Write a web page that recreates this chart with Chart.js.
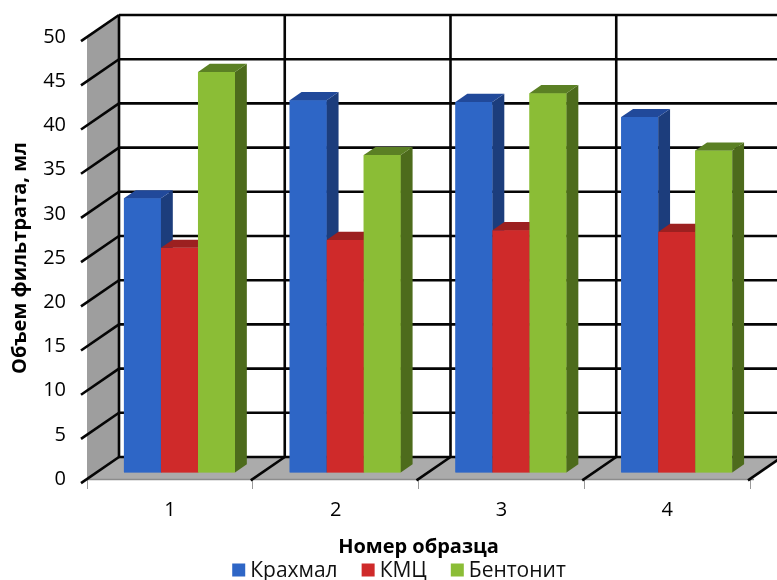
<!DOCTYPE html>
<html>
<head>
<meta charset="utf-8">
<script src="https://cdn.jsdelivr.net/npm/chart.js@4.4.1/dist/chart.umd.min.js"></script>
<style>
  html, body { margin: 0; padding: 0; background: #fff; }
  #wrap { width: 777px; height: 580px; }
</style>
</head>
<body>
<div id="wrap"><canvas id="c" width="777" height="580"></canvas></div>
<script>
// Sample numbers and measured filtrate volumes (ml)
const categories = ['1', '2', '3', '4'];
const seriesNames = ['Крахмал', 'КМЦ', 'Бентонит'];
const starch = [31.0, 42.1, 41.9, 40.2];
const cmc = [25.4, 26.3, 27.4, 27.2];
const bentonite = [45.3, 35.9, 42.9, 36.4];
const yMin = 0, yMax = 50, yStep = 5;
const xTitle = 'Номер образца';
const yTitle = 'Объем фильтрата, мл';

// Face colours: front, side, top
const frontColors = ['#2e66c6', '#cf2a2a', '#8bbd36'];
const sideColors = ['#1c3d7c', '#861b1b', '#4d6b1c'];
const topColors = ['#21499a', '#9c2020', '#5b8024'];

// Oblique depth of the box (back wall offset) and bar slab depth
const DX = 32, DY = 22;
const BAR_Z0 = 0.3, BAR_Z1 = 0.67;

const FONT = '"Open Sans", "Noto Sans", sans-serif';

const box3d = {
  id: 'box3d',
  beforeDatasetsDraw(chart) {
    const ctx = chart.ctx;
    const xs = chart.scales.x, ys = chart.scales.y;
    const L = xs.getPixelForValue(-0.5);
    const R = xs.getPixelForValue(categories.length - 0.5);
    const T = ys.getPixelForValue(yMax);
    const B = ys.getPixelForValue(yMin);
    ctx.save();
    // side wall
    ctx.fillStyle = '#9e9e9e';
    ctx.beginPath();
    ctx.moveTo(L, T); ctx.lineTo(L + DX, T - DY); ctx.lineTo(L + DX, B - DY); ctx.lineTo(L, B);
    ctx.closePath(); ctx.fill();
    // floor
    ctx.fillStyle = '#ababab';
    ctx.beginPath();
    ctx.moveTo(L, B); ctx.lineTo(R, B); ctx.lineTo(R + DX, B - DY); ctx.lineTo(L + DX, B - DY);
    ctx.closePath(); ctx.fill();
    ctx.strokeStyle = '#8c8c8c'; ctx.lineWidth = 1.5;
    ctx.beginPath(); ctx.moveTo(L, B + 0.5); ctx.lineTo(R + 4, B + 0.5); ctx.stroke();

    ctx.strokeStyle = '#050505'; ctx.lineWidth = 2.6; ctx.lineCap = 'butt';
    // back wall horizontal gridlines + side wall diagonals
    for (let v = yMin; v <= yMax; v += yStep) {
      const y = ys.getPixelForValue(v);
      ctx.beginPath(); ctx.moveTo(L + DX, y - DY); ctx.lineTo(R + DX, y - DY); ctx.stroke();
      ctx.beginPath(); ctx.moveTo(L - 6, y + 6 * DY / DX); ctx.lineTo(L + DX, y - DY); ctx.stroke();
    }
    // back wall verticals + floor diagonals at category boundaries
    for (let i = 0; i <= categories.length; i++) {
      const x = xs.getPixelForValue(i - 0.5);
      ctx.beginPath(); ctx.moveTo(x + DX, T - DY); ctx.lineTo(x + DX, B - DY); ctx.stroke();
      if (i > 0) {
        ctx.beginPath(); ctx.moveTo(x - 2, B + 2 * DY / DX); ctx.lineTo(x + DX, B - DY); ctx.stroke();
      }
    }
    ctx.restore();
    // bars sit part-way into the box
    ctx.save();
    ctx.translate(BAR_Z0 * DX, -BAR_Z0 * DY);
  },
  afterDatasetsDraw(chart) {
    const ctx = chart.ctx;
    const ex = (BAR_Z1 - BAR_Z0) * DX, ey = (BAR_Z1 - BAR_Z0) * DY;
    const metas = chart.data.datasets.map((d, k) => chart.getDatasetMeta(k));
    for (let i = 0; i < categories.length; i++) {
      metas.forEach((meta, k) => {
        const el = meta.data[i];
        if (!el) return;
        el.draw(ctx);
        const { x, y, base, width } = el.getProps(['x', 'y', 'base', 'width'], true);
        const l = x - width / 2, r = x + width / 2;
        // right side face
        ctx.fillStyle = sideColors[k];
        ctx.beginPath();
        ctx.moveTo(r, y); ctx.lineTo(r + ex, y - ey); ctx.lineTo(r + ex, base - ey); ctx.lineTo(r, base);
        ctx.closePath(); ctx.fill();
        // top face
        ctx.fillStyle = topColors[k];
        ctx.beginPath();
        ctx.moveTo(l, y); ctx.lineTo(r, y); ctx.lineTo(r + ex, y - ey); ctx.lineTo(l + ex, y - ey);
        ctx.closePath(); ctx.fill();
      });
    }
    ctx.restore();
  },
  afterDraw(chart) {
    // legend row under the axis title
    const ctx = chart.ctx;
    ctx.save();
    ctx.font = '21px ' + FONT;
    ctx.textBaseline = 'middle';
    const box = 13, gapText = 5, gapItem = 24;
    const items = chart.data.datasets.map(d => ({ label: d.label, color: d.backgroundColor }));
    let total = 0;
    items.forEach((it, k) => {
      it.w = ctx.measureText(it.label).width;
      total += box + gapText + it.w + (k < items.length - 1 ? gapItem : 0);
    });
    let x = 399 - total / 2;
    const cy = 570;
    items.forEach(it => {
      ctx.fillStyle = it.color;
      ctx.fillRect(x, cy - box / 2, box, box);
      x += box + gapText;
      ctx.fillStyle = '#111';
      ctx.fillText(it.label, x, cy + 1);
      x += it.w + gapItem;
    });
    ctx.restore();
  }
};

new Chart(document.getElementById('c'), {
  type: 'bar',
  data: {
    labels: categories,
    datasets: [
      { label: seriesNames[0], data: starch, backgroundColor: frontColors[0] },
      { label: seriesNames[1], data: cmc, backgroundColor: frontColors[1] },
      { label: seriesNames[2], data: bentonite, backgroundColor: frontColors[2] }
    ]
  },
  options: {
    responsive: false,
    animation: false,
    devicePixelRatio: 1,
    layout: { padding: { left: 0, top: 37, right: 27, bottom: 1 } },
    datasets: { bar: { categoryPercentage: 0.67, barPercentage: 1.0, borderWidth: 0 } },
    plugins: {
      legend: { display: false },
      tooltip: { enabled: false }
    },
    scales: {
      x: {
        afterFit(s) { s.height = 100; },
        grid: { display: true, drawOnChartArea: false, drawTicks: true, tickLength: 10, color: '#9a9a9a', lineWidth: 1, offset: true },
        border: { display: false },
        ticks: { font: { family: FONT, size: 20 }, color: '#000', padding: 9 },
        title: { display: true, text: xTitle, font: { family: FONT, size: 20, weight: 'bold' }, color: '#000', padding: { top: 0, bottom: 20 } }
      },
      y: {
        min: yMin, max: yMax,
        afterFit(s) { s.width = 87; },
        grid: { display: false, drawTicks: false },
        border: { display: false },
        ticks: { stepSize: yStep, font: { family: FONT, size: 20 }, color: '#000', padding: 21 },
        title: { display: true, text: yTitle, font: { family: FONT, size: 20, weight: 'bold' }, color: '#000', padding: { top: 8, bottom: 0 } }
      }
    }
  },
  plugins: [box3d]
});
</script>
</body>
</html>
